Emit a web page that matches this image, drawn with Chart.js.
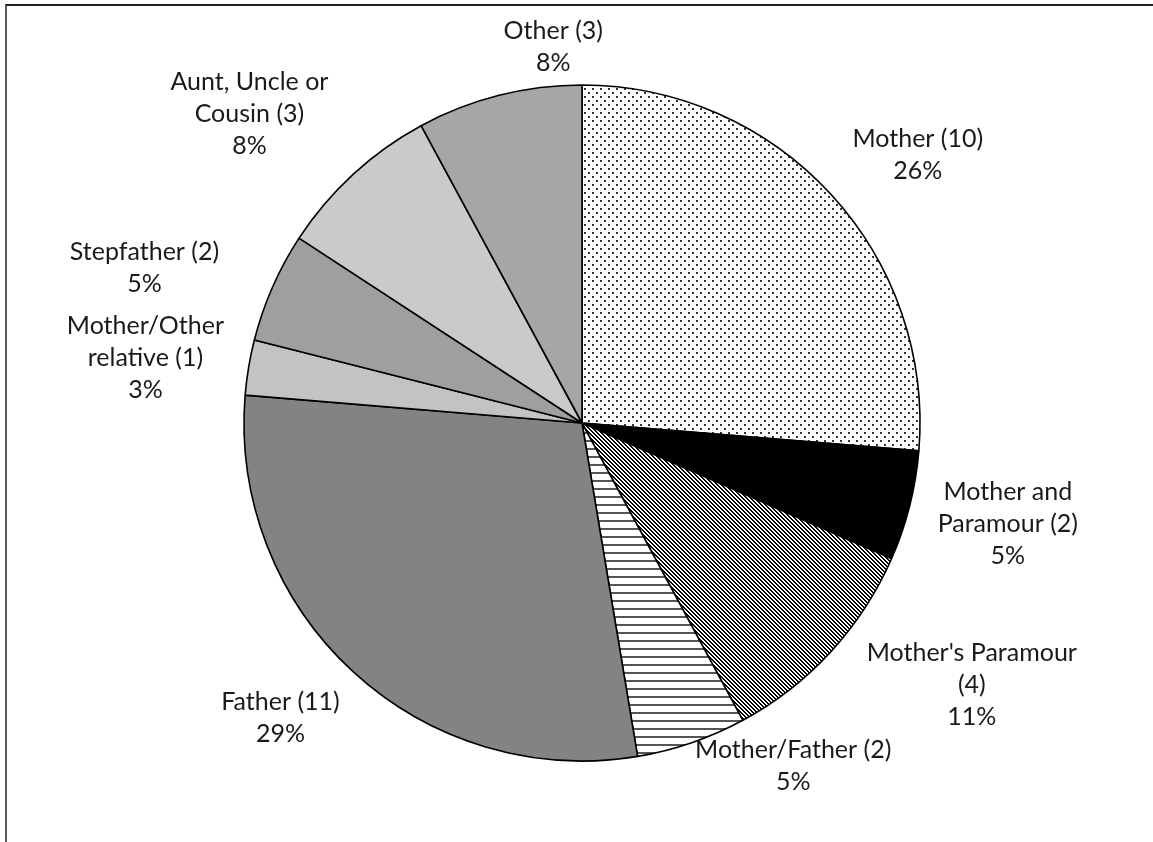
<!DOCTYPE html>
<html>
<head>
<meta charset="utf-8">
<script src="https://cdn.jsdelivr.net/npm/chart.js@4"></script>
<style>
  body { margin: 0; background: #fff; }
  #wrap { position: relative; width: 1153px; height: 842px; overflow: hidden; }
  #frame { position: absolute; left: 5px; top: 4px; right: -10px; bottom: -10px;
           border-top: 2px solid #222; border-left: 2px solid #595959; }
  canvas { position: absolute; left: 0; top: 0; }
</style>
</head>
<body>
<div id="wrap">
  <div id="frame"></div>
  <canvas id="myChart" width="1153" height="842"></canvas>
</div>
<script>
// data
const categories = ['Mother', 'Mother and Paramour', "Mother's Paramour", 'Mother/Father', 'Father',
                    'Mother/Other relative', 'Stepfather', 'Aunt, Uncle or Cousin', 'Other'];
const counts = [10, 2, 4, 2, 11, 1, 2, 3, 3];

// label layout (style, not data)
const labelWrap = [250, 160, 240, 250, 250, 170, 250, 175, 250];
const labelGap = 60;
const labelShift = [[43, 1], [40, 3], [97, -8], [82, -33], [-32, 2], [-44, 0], [-73, 5], [-63, -16], [69, 10]];

function makePattern(w, h, draw) {
    const c = document.createElement('canvas');
    c.width = w; c.height = h;
    const g = c.getContext('2d');
    g.fillStyle = '#fff';
    g.fillRect(0, 0, w, h);
    draw(g);
    return document.getElementById('myChart').getContext('2d').createPattern(c, 'repeat');
}

const dots = makePattern(8, 8, g => {
    g.fillStyle = '#333';
    g.fillRect(0, 0, 2, 2);
    g.fillRect(4, 4, 2, 2);
});
// downward diagonal, pixel staircase
const diag = makePattern(4, 4, g => {
    g.fillStyle = '#000';
    for (let k = 0; k < 4; k++) {
        g.fillRect(k, k, 1, 1);
        g.fillRect((k + 1) % 4, k, 1, 1);
    }
});
const hlines = makePattern(8, 8, g => {
    g.fillStyle = '#555';
    g.fillRect(0, 0, 8, 2);
});

const colores = [dots, '#000000', diag, hlines, '#838383', '#c3c3c3', '#9f9f9f', '#cacaca', '#a6a6a6'];

function wrapText(ctx, text, maxW) {
    const words = text.split(' ');
    const lines = [];
    let cur = '';
    words.forEach(w => {
        const test = cur ? cur + ' ' + w : w;
        if (cur && ctx.measureText(test).width > maxW) {
            lines.push(cur);
            cur = w;
        } else {
            cur = test;
        }
    });
    if (cur) lines.push(cur);
    return lines;
}

const total = counts.reduce((a, b) => a + b, 0);

const sliceLabels = {
    id: 'sliceLabels',
    afterDraw(chart) {
        const ctx = chart.ctx;
        const meta = chart.getDatasetMeta(0);
        ctx.save();
        ctx.font = '25px Lato';
        ctx.fillStyle = '#1a1a1a';
        ctx.textAlign = 'center';
        ctx.textBaseline = 'middle';
        meta.data.forEach((arc, i) => {
            const p = arc.getProps(['x', 'y', 'startAngle', 'endAngle', 'outerRadius'], true);
            const mid = (p.startAngle + p.endAngle) / 2;
            const d = p.outerRadius + labelGap;
            const cx = p.x + Math.cos(mid) * d + labelShift[i][0];
            const cy = p.y + Math.sin(mid) * d + labelShift[i][1];
            const lines = wrapText(ctx, categories[i] + ' (' + counts[i] + ')', labelWrap[i]);
            lines.push(Math.round(counts[i] / total * 100) + '%');
            const lh = 32;
            lines.forEach((ln, k) => ctx.fillText(ln, cx, cy + (k - (lines.length - 1) / 2) * lh));
        });
        ctx.restore();
    }
};

const ctx = document.getElementById('myChart').getContext('2d');
const grafica = new Chart(ctx, {
    type: 'pie',
    data: {
        labels: categories,
        datasets: [{
            data: counts,
            backgroundColor: colores,
            borderColor: '#000',
            borderWidth: 1.6
        }]
    },
    options: {
        responsive: false,
        animation: false,
        radius: 338,
        layout: { padding: { top: 85, bottom: 81, left: 244, right: 233 } },
        plugins: {
            legend: { display: false },
            tooltip: { enabled: false }
        }
    },
    plugins: [sliceLabels]
});
</script>
</body>
</html>
